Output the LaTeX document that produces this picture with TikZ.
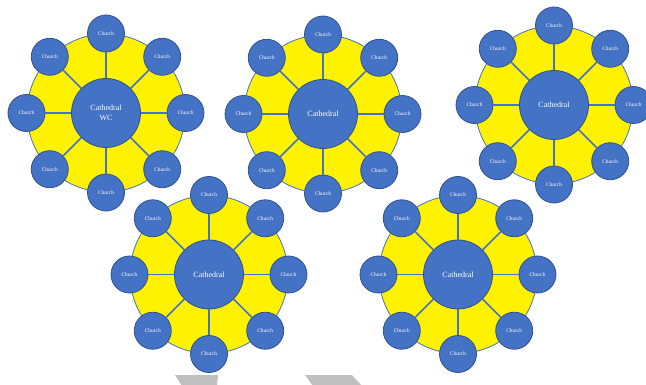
\documentclass[tikz,border=0pt]{standalone}
\usepackage{fontspec}
\setmainfont{Liberation Serif}
\definecolor{obl}{HTML}{4472C4}
\definecolor{obd}{HTML}{2F528F}
\definecolor{arrg}{HTML}{BFBFBF}
\tikzset{
  yel/.style={circle,fill=yellow,draw=obl,line width=0.8pt,minimum size=158pt,inner sep=0pt},
  cat/.style={circle,fill=obl,draw=obd,line width=0.8pt,minimum size=69pt,inner sep=0pt,
    text=white,font=\fontsize{8}{10.5}\selectfont,align=center},
  church/.style={circle,fill=obl,draw=obd,line width=0.8pt,minimum size=37pt,inner sep=0pt,
    text=white,font=\fontsize{5.4}{6}\selectfont},
  spoke/.style={draw=obl,line width=1.5pt}
}
\newcommand\mycluster[4]{%
  \node[yel] (#1y) at (#2,#3) {};
  \node[cat] (#1) at (#2,#3) {#4};
  \foreach \i in {1,...,8}{%
    \pgfmathsetmacro\ang{-90+45*(\i-1)}
    \node[church] (#1-\i) at ([shift={(\ang:79.5)}]#1.center) {Church};
    \draw[spoke] (#1) -- (#1-\i);
  }%
}
\begin{document}
\begin{tikzpicture}[x=1pt,y=-1pt]
\useasboundingbox (0,0) rectangle (646,385);
\mycluster{a}{106}{113}{Cathedral\\WC}
\mycluster{b}{323}{114}{Cathedral}
\mycluster{c}{554}{105}{Cathedral}
\mycluster{d}{209}{274.5}{Cathedral}
\mycluster{e}{458}{274.5}{Cathedral}
\fill[arrg] (175,375) -- (218,375) -- (217,386) -- (182,386) -- cycle;
\fill[arrg] (305,375) -- (352,375) -- (362,386) -- (313,386) -- cycle;
\end{tikzpicture}
\end{document}
